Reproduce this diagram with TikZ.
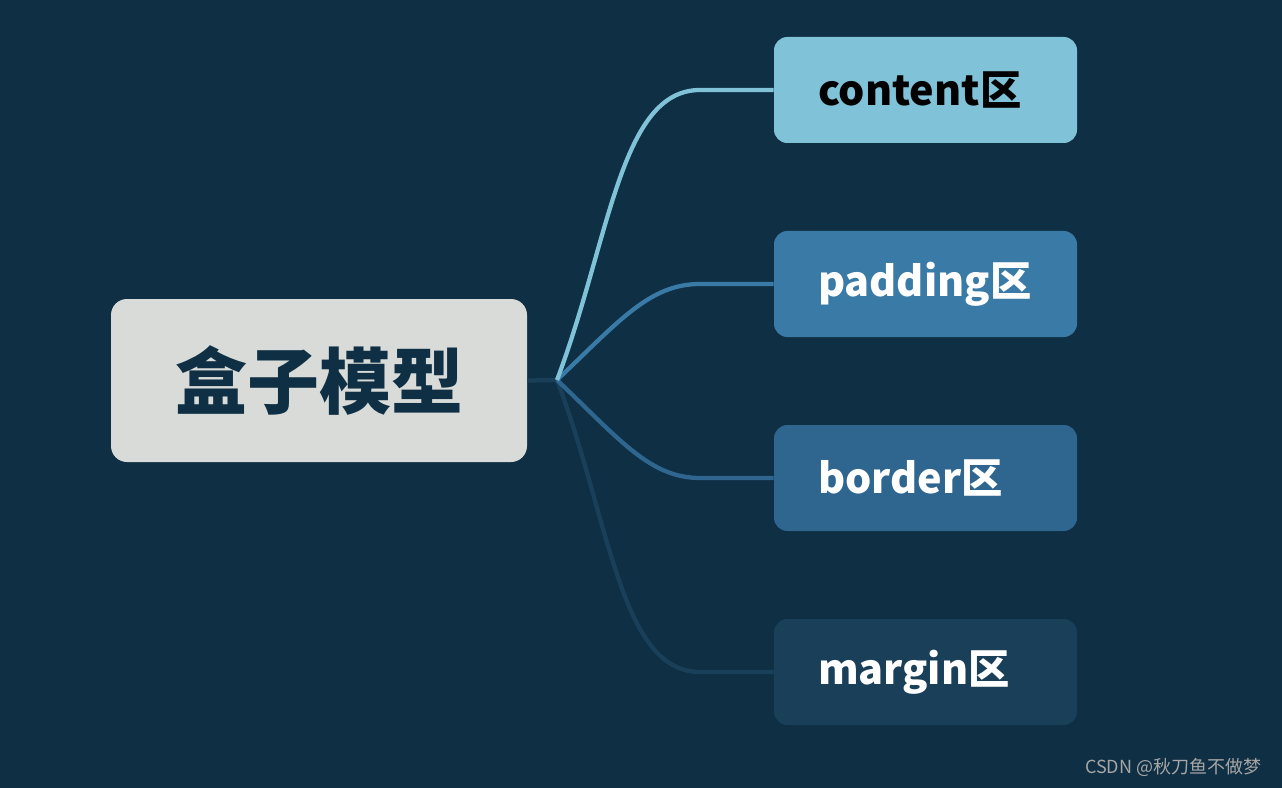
\documentclass[tikz,border=0pt]{standalone}
\usepackage{fontspec}
\newfontfamily\cjk{Noto Sans CJK SC}
\definecolor{bg}{HTML}{0E2F44}
\definecolor{rootc}{HTML}{D8DBD7}
\definecolor{c1}{HTML}{80C3D8}
\definecolor{c2}{HTML}{3A7AA6}
\definecolor{c3}{HTML}{2F6690}
\definecolor{c4}{HTML}{1A4059}
\begin{document}
\begin{tikzpicture}[x=0.75pt,y=-0.75pt,
  child/.style={rounded corners=10pt,inner xsep=44*0.75pt,text width=215*0.75pt,align=left,minimum height=106*0.75pt,inner ysep=0pt,font=\cjk\bfseries\fontsize{31}{33}\selectfont},
  conn/.style={line width=3.2pt}]
\fill[bg] (0,0) rectangle (1282,788);
\useasboundingbox (0,0) rectangle (1282,788);
\node[fill=rootc,rounded corners=12pt,minimum width=416*0.75pt,minimum height=163*0.75pt,inner sep=0pt,text=bg,font=\cjk\bfseries\fontsize{54}{56}\selectfont] (root) at (319,380.5) {盒子模型};
\node[child,fill=c1,text=black] (a) at (925.5,90) {content区};
\node[child,fill=c2,text=white] (b) at (925.5,284) {padding区};
\node[child,fill=c3,text=white] (c) at (925.5,478) {border区};
\node[child,fill=c4,text=white] (d) at (925.5,672) {margin区};
\coordinate (hub) at (557,380);
\draw[conn,c4] (root.east) -- (hub);
\draw[conn,c4] (hub) .. controls (610,520) and (620,672) .. (700,672) -- (d.west);
\draw[conn,c3] (hub) .. controls (620,440) and (650,478) .. (700,478) -- (c.west);
\draw[conn,c2] (hub) .. controls (620,320) and (650,284) .. (700,284) -- (b.west);
\draw[conn,c1] (hub) .. controls (610,240) and (620,90) .. (700,90) -- (a.west);
\node[anchor=east,text=gray!70,font=\cjk\fontsize{13.5}{15}\selectfont] (wm) at (1266,767) {CSDN @秋刀鱼不做梦};
\end{tikzpicture}
\end{document}
